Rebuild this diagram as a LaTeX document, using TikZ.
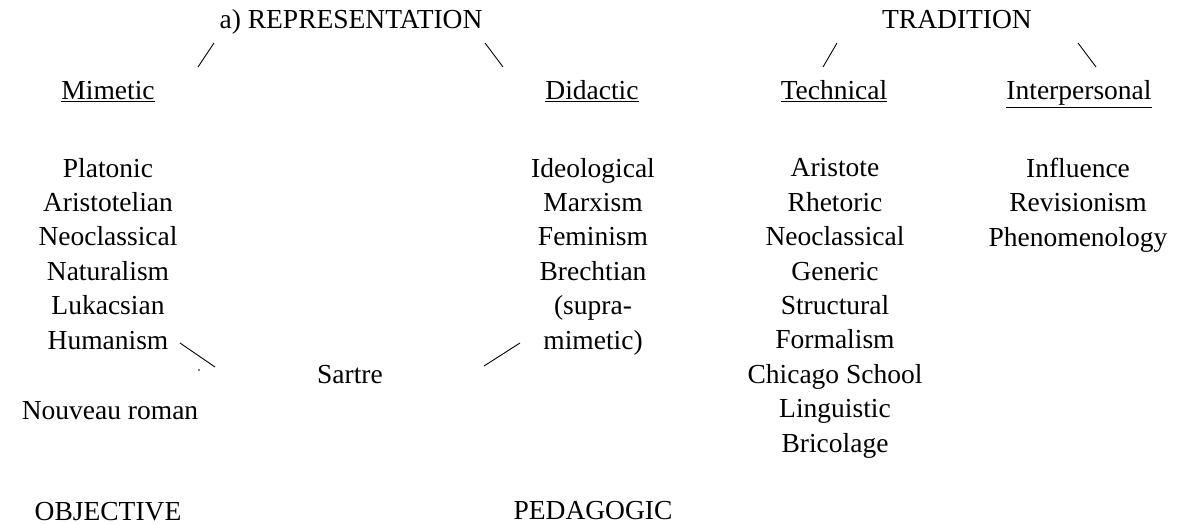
\documentclass[tikz,border=0pt]{standalone}
\usepackage{fontspec}
\setmainfont{Liberation Serif}
\begin{document}
\begin{tikzpicture}[x=1pt,y=-1pt,
    lbl/.style={anchor=base,inner sep=0pt,font=\fontsize{27.5}{34.4}\selectfont},
    lst/.style={lbl,align=center},
    stroke/.style={line width=0.9pt}]
  \useasboundingbox (0,0) rectangle (1181,524);
  % headings
  \node[lbl] at (351,29) (rep) {a) REPRESENTATION};
  \node[lbl] at (957,29) (trad) {TRADITION};
  \node[lbl] at (108,100) (mim) {\underline{Mimetic}};
  \node[lbl] at (592,100) (did) {\underline{Didactic}};
  \node[lbl] at (834,100) (tech) {\underline{Technical}};
  \node[lbl] at (1079,100) (inter) {\underline{Interpersonal}};
  % lists (base = last line)
  \node[lst] at (108,349) (mimlist) {Platonic\\Aristotelian\\Neoclassical\\Naturalism\\Lukacsian\\Humanism};
  \node[lst] at (593,349) (didlist) {Ideological\\Marxism\\Feminism\\Brechtian\\(supra-\\mimetic)};
  \node[lst] at (835,452) (techlist) {Aristote\\Rhetoric\\Neoclassical\\Generic\\Structural\\Formalism\\Chicago School\\Linguistic\\Bricolage};
  \node[lst] at (1078,246) (interlist) {Influence\\Revisionism\\Phenomenology};
  \node[lbl] at (350,383) (sartre) {Sartre};
  \node[lbl] at (110,419) (nouveau) {Nouveau roman};
  \node[lbl] at (108,520) (obj) {OBJECTIVE};
  \node[lbl] at (593,519) (ped) {PEDAGOGIC};
  % strokes
  \coordinate (r1a) at (214,43);  \coordinate (r1b) at (198,67);
  \coordinate (r2a) at (485,43);  \coordinate (r2b) at (503,67);
  \coordinate (t1a) at (837,43);  \coordinate (t1b) at (823,67);
  \coordinate (t2a) at (1078,43); \coordinate (t2b) at (1096,67);
  \coordinate (h1) at (180,343);  \coordinate (h2) at (215,367);
  \coordinate (m1) at (520,343);  \coordinate (m2) at (484,366);
  \coordinate (spot) at (199,370);
  \draw[stroke] (r1a) -- (r1b);
  \draw[stroke] (r2a) -- (r2b);
  \draw[stroke] (t1a) -- (t1b);
  \draw[stroke] (t2a) -- (t2b);
  \draw[stroke] (h1) -- (h2);
  \draw[stroke] (m1) -- (m2);
  \fill (spot) circle (0.8pt);
\end{tikzpicture}
\end{document}
